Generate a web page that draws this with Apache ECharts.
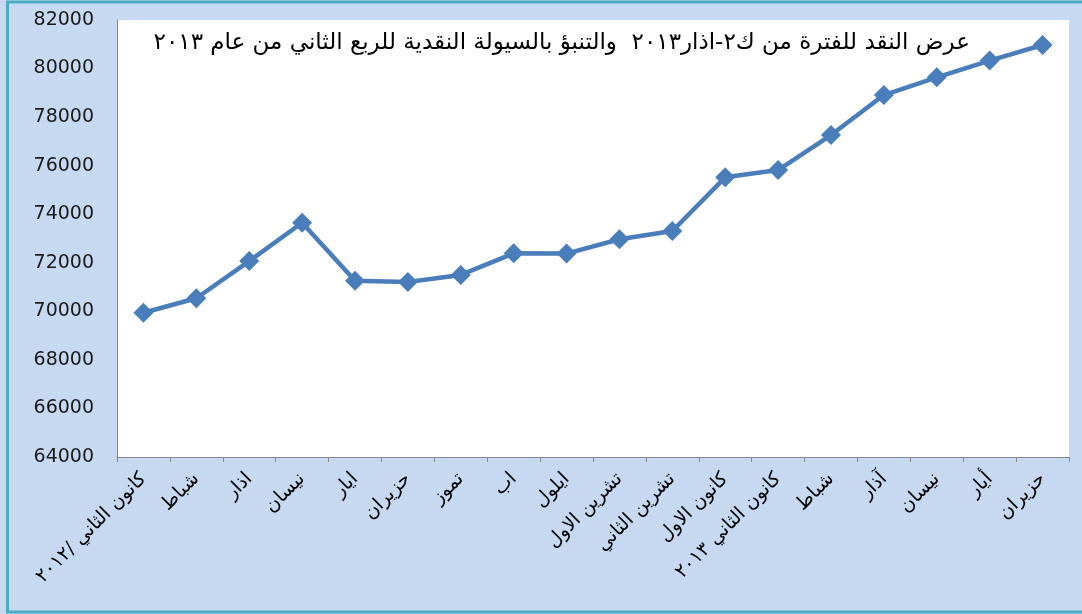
<!DOCTYPE html>
<html>
<head>
<meta charset="utf-8">
<script src="https://cdn.jsdelivr.net/npm/echarts@6/dist/echarts.min.js"></script>
<style>
html,body{margin:0;padding:0;background:#c6d9f1;}
#chart{width:1082px;height:614px;}
</style>
</head>
<body>
<div id="chart"></div>
<script>
const categories = [
  "كانون الثاني /٢٠١٢", "شباط", "اذار", "نيسان", "ايار", "حزيران", "تموز", "اب", "ايلول",
  "تشرين الاول", "تشرين الثاني", "كانون الاول", "كانون الثاني ٢٠١٣", "شباط", "آذار", "نيسان", "أيار", "حزيران"
];
const moneySupply = [69940, 70540, 72070, 73650, 71260, 71210, 71500, 72390, 72380, 72970, 73310, 75520, 75820, 77260, 78910, 79640, 80330, 80970];
const yMin = 64000, yMax = 82000, yStep = 2000;
const chartTitle = "عرض النقد للفترة من ك٢-اذار٢٠١٣  والتنبؤ بالسيولة النقدية للربع الثاني من عام ٢٠١٣";

const chart = echarts.init(document.getElementById('chart'));
chart.setOption({
  backgroundColor: '#c6d9f1',
  animation: false,
  grid: { left: 117, top: 20, right: 13, bottom: 157, show: true, backgroundColor: '#ffffff', borderWidth: 0 },
  graphic: [
    { type: 'rect', shape: { x: 7.5, y: 2, width: 1200, height: 610 }, style: { fill: 'none', stroke: '#4bacc6', lineWidth: 3 }, z: 100 },
    { type: 'text', x: 970, y: 43, style: { text: chartTitle, fill: '#000', font: '23px "DejaVu Sans"', textAlign: 'right', textVerticalAlign: 'middle' }, z: 100 }
  ],
  xAxis: {
    type: 'category',
    data: categories,
    boundaryGap: true,
    axisLine: { lineStyle: { color: '#868686', width: 1 } },
    axisTick: { show: true, length: 5, lineStyle: { color: '#868686' } },
    axisLabel: { rotate: 45, margin: 19, color: '#000', fontSize: 19, fontFamily: 'DejaVu Sans', interval: 0 },
    splitLine: { show: false }
  },
  yAxis: {
    type: 'value',
    min: yMin, max: yMax, interval: yStep,
    axisLine: { show: true, lineStyle: { color: '#868686', width: 1 } },
    axisTick: { show: false },
    axisLabel: { color: '#1a1a1a', fontSize: 19, fontFamily: 'DejaVu Sans', margin: 23, formatter: function (v) { return String(v); } },
    splitLine: { show: false }
  },
  series: [{
    type: 'line',
    data: moneySupply,
    symbol: 'diamond',
    symbolSize: 20,
    lineStyle: { color: '#4a7ebb', width: 4.5 },
    itemStyle: { color: '#4a7ebb' }
  }]
});
</script>
</body>
</html>
